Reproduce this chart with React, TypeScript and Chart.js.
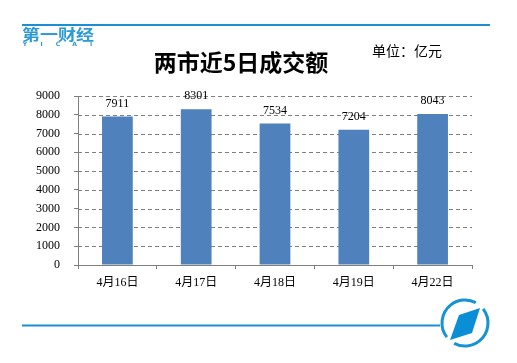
import React, { useEffect, useRef } from "react";
import { Chart, registerables } from "chart.js";

Chart.register(...registerables);

const categories = ["4月16日", "4月17日", "4月18日", "4月19日", "4月22日"];
const turnover = [7911, 8301, 7534, 7204, 8043];
const yTicks = [0, 1000, 2000, 3000, 4000, 5000, 6000, 7000, 8000, 9000];
const titleText = "两市近5日成交额";
const unitText = "单位：亿元";
const logoText = "第一财经";
const logoSub = ["Y", "I", "C", "A", "I"];

const BLUE = "#1b8fd2";
const BAR = "#4f81bd";
const GRID = "#7f7f7f";
const NUMFONT = '"Liberation Serif", "Noto Sans CJK SC", serif';

const decor = {
  id: "decor",
  beforeDraw(chart: any) {
    const ctx = chart.ctx;
    ctx.save();
    ctx.fillStyle = "#fff";
    ctx.fillRect(0, 0, chart.width, chart.height);
    ctx.restore();
  },
  beforeDatasetsDraw(chart: any) {
    // dashed horizontal gridlines from the y scale's own ticks
    const ctx = chart.ctx;
    const ys = chart.scales.y;
    const area = chart.chartArea;
    ctx.save();
    ctx.strokeStyle = GRID;
    ctx.lineWidth = 1;
    ctx.setLineDash([4, 3]);
    ys.ticks.forEach((t: any) => {
      if (t.value === 0) return;
      const y = Math.round(ys.getPixelForValue(t.value)) + 0.5;
      ctx.beginPath();
      ctx.moveTo(area.left, y);
      ctx.lineTo(area.right, y);
      ctx.stroke();
    });
    ctx.restore();
  },
  afterDraw(chart: any) {
    const ctx = chart.ctx;
    ctx.save();
    // top line
    ctx.strokeStyle = BLUE;
    ctx.lineWidth = 2;
    ctx.beginPath();
    ctx.moveTo(22, 25);
    ctx.lineTo(490, 25);
    ctx.stroke();
    // top logo
    ctx.fillStyle = "#2a9ad8";
    ctx.font = 'bold 15px "Noto Sans CJK SC"';
    ctx.textBaseline = "middle";
    ctx.textAlign = "left";
    ctx.save();
    ctx.translate(22, 34);
    ctx.scale(1.2, 1);
    ctx.fillText(logoText, 0, 0);
    ctx.restore();
    ctx.font = 'bold 6px "DejaVu Sans"';
    ctx.textAlign = "center";
    logoSub.forEach((c, i) => ctx.fillText(c, 25 + i * 16.5, 44));
    // title
    ctx.fillStyle = "#000";
    ctx.font = 'bold 23px "Noto Sans CJK SC"';
    ctx.textAlign = "center";
    ctx.fillText(titleText, 241, 62);
    // unit
    ctx.font = '14px "Noto Sans CJK SC"';
    ctx.textAlign = "left";
    ctx.fillText(unitText, 372, 51, 74);
    // bottom line
    ctx.strokeStyle = BLUE;
    ctx.lineWidth = 2;
    ctx.beginPath();
    ctx.moveTo(22, 325.5);
    ctx.lineTo(440, 325.5);
    ctx.stroke();
    // bottom ring logo
    const cx = 465, cy = 323, r = 23;
    const d = Math.PI / 180;
    ctx.lineWidth = 3;
    ctx.strokeStyle = "#1593d4";
    ctx.beginPath();
    ctx.arc(cx, cy, r, -38 * d, 118 * d);
    ctx.stroke();
    ctx.beginPath();
    ctx.arc(cx, cy, r, 142 * d, 298 * d);
    ctx.stroke();
    ctx.fillStyle = "#0a8fd6";
    ctx.beginPath();
    ctx.moveTo(480, 308);
    ctx.lineTo(459, 315);
    ctx.lineTo(450, 340);
    ctx.lineTo(472, 333);
    ctx.closePath();
    ctx.fill();
    ctx.restore();
  },
  afterDatasetsDraw(chart: any) {
    const ctx = chart.ctx;
    const meta = chart.getDatasetMeta(0);
    ctx.save();
    ctx.fillStyle = "#000";
    ctx.font = "12px " + NUMFONT;
    ctx.textAlign = "center";
    ctx.textBaseline = "middle";
    meta.data.forEach((bar: any, i: number) => {
      ctx.fillText(String(turnover[i]), bar.x, bar.y - 13);
    });
    ctx.restore();
  },
};

export default function App() {
  const ref = useRef<HTMLCanvasElement>(null);
  useEffect(() => {
    document.body.style.margin = "0";
    const chart = new Chart(ref.current!, {
      type: "bar",
      data: {
        labels: categories,
        datasets: [
          {
            data: turnover,
            backgroundColor: BAR,
            categoryPercentage: 1,
            barPercentage: 0.39,
          },
        ],
      },
      options: {
        animation: false,
        responsive: false,
        devicePixelRatio: 1,
        layout: { padding: { top: 96, right: 45, left: 0, bottom: 58 } },
        plugins: { legend: { display: false }, tooltip: { enabled: false }, title: { display: false } },
        scales: {
          x: {
            afterFit: (s: any) => { s.height = 40; },
            grid: {
              display: true,
              drawOnChartArea: false,
              drawTicks: true,
              tickLength: 4,
              color: GRID,
              offset: true,
            },
            border: { display: true, color: GRID, width: 1 },
            ticks: { color: "#000", font: { size: 12, family: NUMFONT }, padding: 7 },
          },
          y: {
            min: 0,
            max: 9000,
            afterFit: (s: any) => { s.width = 78; },
            afterBuildTicks: (s: any) => { s.ticks = yTicks.map((v) => ({ value: v })); },
            grid: {
              color: GRID,
              lineWidth: 1,
              drawOnChartArea: false,
              drawTicks: true,
              tickLength: 4,
              tickColor: GRID,
            },
            border: { display: true, color: GRID, width: 1 },
            ticks: {
              color: "#000",
              font: { size: 12, family: NUMFONT },
              padding: 14,
              callback: (v: any) => String(v),
            },
          },
        },
      },
      plugins: [decor],
    });
    return () => chart.destroy();
  }, []);
  return (
    <div style={{ position: "absolute", left: 0, top: 0, width: 517, height: 363 }}>
      <canvas ref={ref} width={517} height={363} />
    </div>
  );
}
